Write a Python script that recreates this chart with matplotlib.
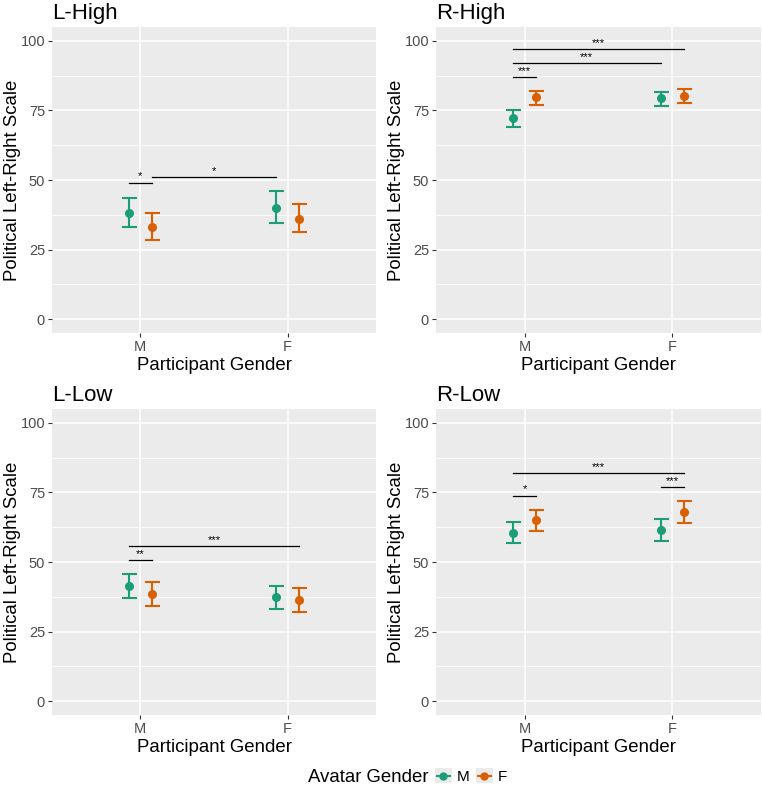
import matplotlib
matplotlib.use("Agg")
import matplotlib.pyplot as plt
from matplotlib.lines import Line2D
from matplotlib.patches import Rectangle

plt.rcParams["font.family"] = ["Liberation Sans", "DejaVu Sans"]

PANELS = ["L-High", "R-High", "L-Low", "R-Low"]
GROUPS = ["M", "F"]          # participant gender (x axis)
AVATARS = ["M", "F"]         # avatar gender (colour)
COLORS = ["#1B9E77", "#D95F02"]

# means and 95% CI per panel, [participant M, participant F]
MEAN_AV_M = [[38.3, 39.9], [72.4, 79.4], [41.4, 37.3], [60.6, 61.6]]
LOW_AV_M = [[33.2, 34.7], [68.9, 76.7], [37.0, 33.0], [56.8, 57.7]]
HIGH_AV_M = [[43.7, 45.9], [75.3, 81.8], [45.6, 41.5], [64.4, 65.6]]

MEAN_AV_F = [[33.1, 36.1], [79.7, 80.3], [38.6, 36.2], [65.1, 68.1]]
LOW_AV_F = [[28.6, 31.4], [77.0, 77.8], [34.2, 31.9], [61.0, 64.0]]
HIGH_AV_F = [[38.2, 41.5], [82.0, 82.6], [42.9, 40.6], [68.8, 71.9]]

# significance brackets: (participant a, avatar a, participant b, avatar b, y, label)
SIGNIF = [
    [(0, 0, 0, 1, 49.0, "*"), (0, 1, 1, 0, 51.0, "*")],
    [(0, 0, 0, 1, 87.0, "***"), (0, 0, 1, 0, 91.9, "***"), (0, 0, 1, 1, 97.1, "***")],
    [(0, 0, 0, 1, 50.6, "**"), (0, 0, 1, 1, 55.7, "***")],
    [(0, 0, 0, 1, 73.8, "*"), (1, 0, 1, 1, 76.9, "***"), (0, 0, 1, 1, 81.9, "***")],
]

DODGE = 0.08
W, H = 762, 789


class KeyHandler:
    """ggplot-like legend key: grey square with a line and a point."""

    def legend_artist(self, legend, orig_handle, fontsize, handlebox):
        x0, y0 = -handlebox.xdescent, -handlebox.ydescent
        w, h = handlebox.width, handlebox.height
        tr = handlebox.get_transform()
        bg = Rectangle((x0, y0), w, h, facecolor="#EBEBEB",
                       edgecolor="none", transform=tr)
        c = orig_handle.get_color()
        ln = Line2D([x0 + 0.1 * w, x0 + 0.9 * w], [y0 + h / 2] * 2,
                    color=c, linewidth=1.5, transform=tr)
        pt = Line2D([x0 + w / 2], [y0 + h / 2], marker="o", markersize=5,
                    color=c, linestyle="none", transform=tr)
        for art in (bg, ln, pt):
            handlebox.add_artist(art)
        return bg


fig = plt.figure(figsize=(W / 100, H / 100), dpi=100)

# panel boxes in pixels: left, top, width, height
boxes = [(52, 27, 324, 306), (436, 27, 325, 306),
         (52, 409, 324, 306), (436, 409, 325, 306)]


def xpos(p, a):
    return p + 1 + (-DODGE if a == 0 else DODGE)


for i, name in enumerate(PANELS):
    l, t, w, h = boxes[i]
    ax = fig.add_axes([l / W, (H - t - h) / H, w / W, h / H])
    ax.set_facecolor("#EBEBEB")
    for s in ax.spines.values():
        s.set_visible(False)

    series = [(MEAN_AV_M[i], LOW_AV_M[i], HIGH_AV_M[i]),
              (MEAN_AV_F[i], LOW_AV_F[i], HIGH_AV_F[i])]
    for a, (mean, lo, hi) in enumerate(series):
        xs = [xpos(p, a) for p in range(len(GROUPS))]
        err = [[m - lo_ for m, lo_ in zip(mean, lo)],
               [hi_ - m for m, hi_ in zip(mean, hi)]]
        ax.errorbar(xs, mean, yerr=err, fmt="o", color=COLORS[a],
                    markersize=5.5, elinewidth=1.5, capsize=5.4,
                    capthick=1.5, zorder=3)

    for pa, aa, pb, ab, y, lab in SIGNIF[i]:
        x1, x2 = xpos(pa, aa), xpos(pb, ab)
        ax.plot([x1, x2], [y, y], color="black", linewidth=0.9, zorder=3)
        ax.text((x1 + x2) / 2, y + 0.5, lab, ha="center", va="bottom",
                fontsize=8, color="black")

    ax.set_xlim(0.4, 2.6)
    ax.set_ylim(-5, 105)
    ax.set_xticks([1, 2])
    ax.set_xticklabels(GROUPS)
    ax.set_yticks([0, 25, 50, 75, 100])
    ax.set_yticks([12.5, 37.5, 62.5, 87.5], minor=True)
    ax.grid(True, which="major", color="white", linewidth=1.1)
    ax.grid(True, which="minor", axis="y", color="white", linewidth=0.55)
    ax.set_axisbelow(True)
    ax.tick_params(which="major", length=3, width=0.8, color="#333333",
                   labelsize=10.5, labelcolor="#4D4D4D", pad=2)
    ax.tick_params(which="minor", length=0)
    ax.set_xlabel("Participant Gender", fontsize=13.4, labelpad=2)
    ax.set_ylabel("Political Left-Right Scale", fontsize=13.4, labelpad=-0.5)
    ax.set_title(name, loc="left", fontsize=16, pad=5.5)

handles = [Line2D([], [], color=c) for c in COLORS]
fig.text(308 / W, 1 - 777 / H, "Avatar Gender", fontsize=13.4,
         ha="left", va="center")
fig.legend(handles, AVATARS, loc="center left",
           bbox_to_anchor=(435 / W, 1 - 776 / H), ncol=2, frameon=False,
           fontsize=11, handlelength=1.1, handleheight=1.1,
           handletextpad=0.35, columnspacing=0.4, borderpad=0,
           borderaxespad=0, handler_map={Line2D: KeyHandler()})

fig.savefig("out.png", dpi=100)
